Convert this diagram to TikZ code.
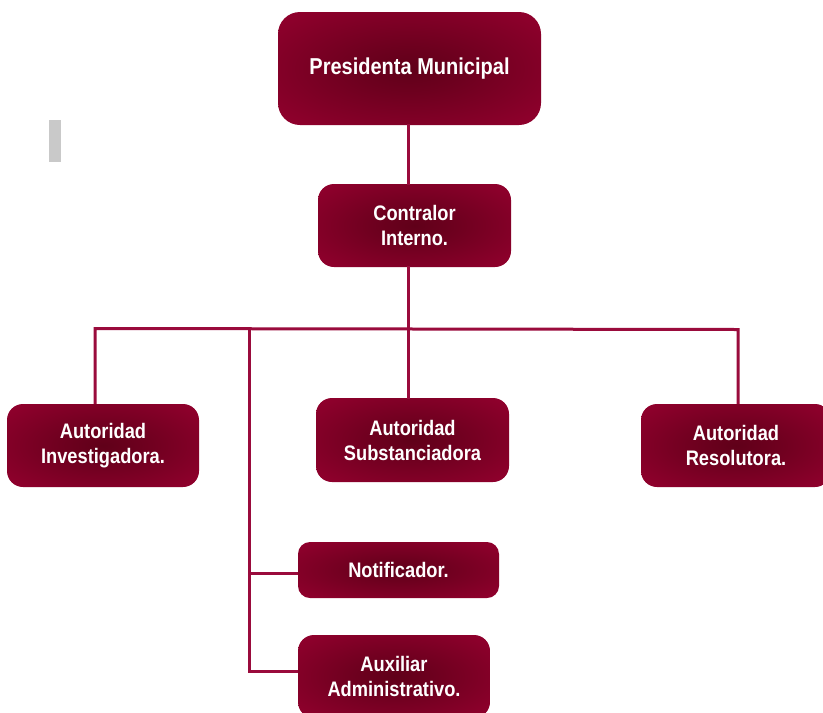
\documentclass[tikz,border=0pt]{standalone}
\usepackage{fontspec}
\newfontfamily\boxfont{Liberation Sans}[FakeStretch=0.87]
\definecolor{bin}{HTML}{600019}
\definecolor{bout}{HTML}{A20034}
\definecolor{lineclr}{HTML}{9A0B3C}
\definecolor{barclr}{HTML}{C9C9C9}
\pgfdeclareradialshading{boxshade}{\pgfpoint{0bp}{0bp}}{color(0bp)=(bin); color(10bp)=(bin!80!bout); color(46bp)=(bout); color(50bp)=(bout)}
\tikzset{
  orgbox/.style={rounded corners=16pt, shading=boxshade, draw=none, align=center,
    text=white, font=\boxfont\bfseries\fontsize{21}{25}\selectfont, inner sep=0pt},
  conn/.style={draw=lineclr, line width=3pt, line cap=rect}
}
\begin{document}
\begin{tikzpicture}[x=1pt,y=-1pt]
\useasboundingbox (0,0) rectangle (823,713);
\clip (0,0) rectangle (823,713);
\fill[barclr] (49,120) rectangle (61,162);
% nodes
\node[orgbox, minimum width=263pt, minimum height=113pt, rounded corners=22pt,
  font=\boxfont\bfseries\fontsize{23}{27}\selectfont] (pres) at (409.5,68.5) {Presidenta Municipal};
\node[orgbox, minimum width=193pt, minimum height=83pt] (contr) at (414.5,225.5) {Contralor\\Interno.};
\node[orgbox, minimum width=192pt, minimum height=83pt] (inv) at (103,445.5) {Autoridad\\Investigadora.};
\node[orgbox, minimum width=193pt, minimum height=84pt] (sub) at (412.5,440) {Autoridad\\Substanciadora};
\node[orgbox, minimum width=190pt, minimum height=83pt] (res) at (736,445.5) {Autoridad\\Resolutora.};
\node[orgbox, minimum width=201pt, minimum height=56pt, rounded corners=12pt] (noti) at (398.5,570) {Notificador.};
\node[orgbox, minimum width=192pt, minimum height=83pt] (aux) at (394,676.5) {Auxiliar\\Administrativo.};
% junction coordinates
\coordinate (mid) at (408,328.5);
\coordinate (bl) at (95,328.5);
\coordinate (br) at (738,329.5);
\coordinate (sp) at (249,328.5);
\coordinate (nb) at (249,573);
\coordinate (ab) at (249,671);
% connectors
\draw[conn] (pres.south -| mid) -- (contr.north -| mid);
\draw[conn] (contr.south -| mid) -- (sub.north -| mid);
\draw[conn, line cap=butt] (inv.north -| bl) -- (bl) -- (br) -- (res.north -| br);
\draw[conn, line cap=butt] (sp) -- (ab) -- (ab -| aux.west);
\draw[conn, line cap=butt] (nb) -- (nb -| noti.west);
\end{tikzpicture}
\end{document}
